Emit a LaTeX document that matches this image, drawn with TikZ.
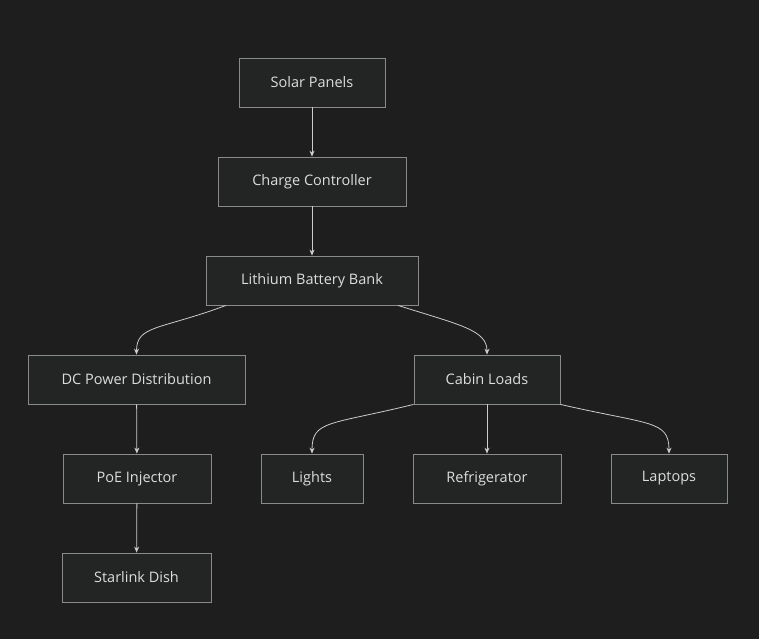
\documentclass[tikz,border=0pt]{standalone}
\usepackage{fontspec}
\setmainfont{Open Sans}
\usetikzlibrary{arrows.meta,calc}
\definecolor{bg}{HTML}{1E1E1E}
\definecolor{nfill}{HTML}{232525}
\definecolor{nline}{HTML}{8A8A8A}
\definecolor{txt}{HTML}{DDDDDD}
\definecolor{edge}{HTML}{CCCCCC}
\begin{document}
\begin{tikzpicture}[x=1pt,y=-1pt,
  box/.style={draw=nline,fill=nfill,line width=0.8pt,minimum height=49pt,text=txt,font=\fontsize{14.5}{16}\selectfont,inner sep=0pt},
  ar/.style={draw=edge,line width=0.8pt,-{Stealth[length=6pt,width=5pt]}}]
\fill[bg] (0,0) rectangle (759,639);
\useasboundingbox (0,0) rectangle (759,639);
\node[box,minimum width=146pt] (sp) at (312,82.5) {Solar Panels};
\node[box,minimum width=188pt] (cc) at (312,181.5) {Charge Controller};
\node[box,minimum width=212pt] (bat) at (312,280.5) {Lithium Battery Bank};
\node[box,minimum width=217pt] (dc) at (136.5,379.5) {DC Power Distribution};
\node[box,minimum width=146pt] (cab) at (487,379.5) {Cabin Loads};
\node[box,minimum width=148pt] (poe) at (137,478.5) {PoE Injector};
\node[box,minimum width=102pt] (li) at (312,478.5) {Lights};
\node[box,minimum width=148pt] (fr) at (487,478.5) {Refrigerator};
\node[box,minimum width=116pt] (lap) at (669,478.5) {Laptops};
\node[box,minimum width=149pt] (sl) at (136.5,577.5) {Starlink Dish};
\draw[ar] (sp) -- (cc);
\draw[ar] (cc) -- (bat);
\draw[ar] ([xshift=-86pt]bat.south) .. controls (160,330) and (136.5,325) .. (dc.north);
\draw[ar] ([xshift=86pt]bat.south) .. controls (460,325) and (487,330) .. (cab.north);
\draw[ar] (dc) -- (poe);
\draw[ar] (poe) -- (sl);
\draw[ar] (cab.south west) .. controls (330,425) and (312,420) .. (li.north);
\draw[ar] (cab) -- (fr);
\draw[ar] (cab.south east) .. controls (650,425) and (669,420) .. (lap.north);
\end{tikzpicture}
\end{document}
